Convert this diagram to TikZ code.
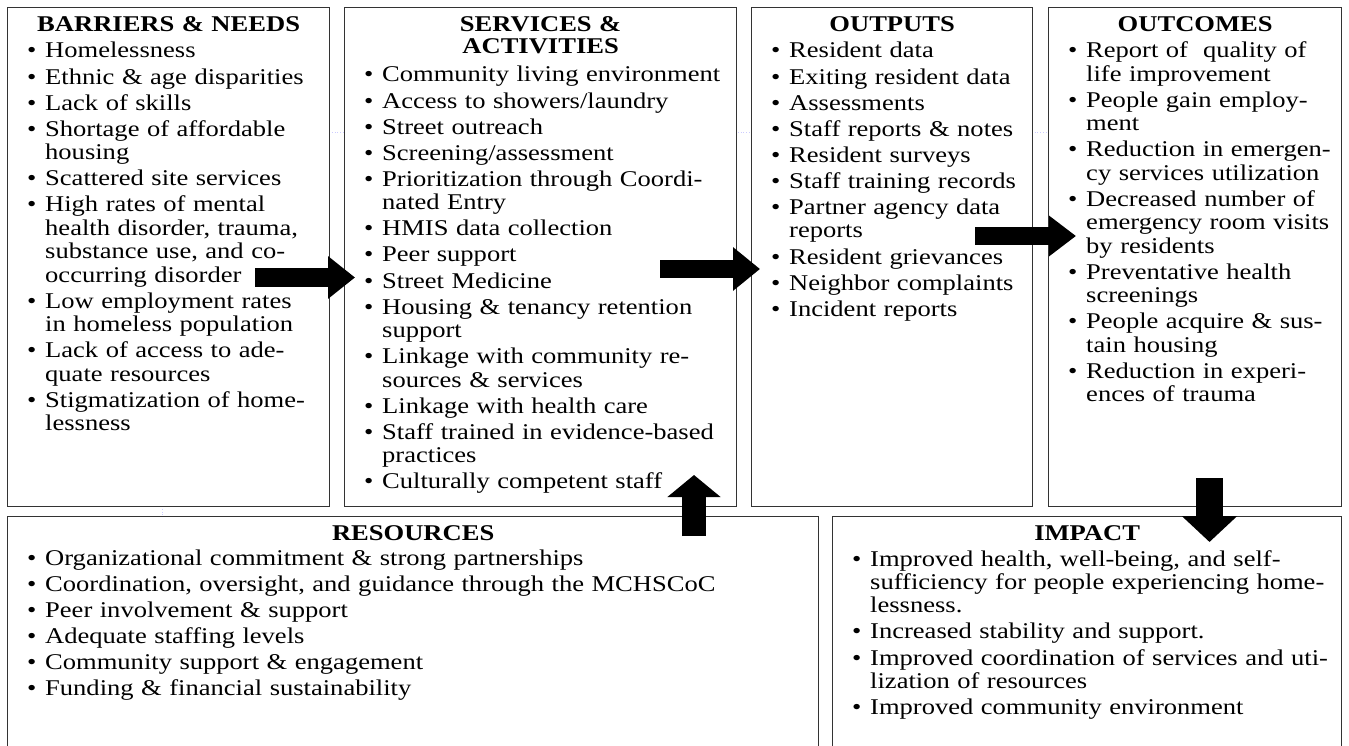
\documentclass[tikz,border=0pt]{standalone}
\usepackage{fontspec}
\setmainfont{Liberation Serif}[FakeStretch=1.18]
\usetikzlibrary{arrows.meta}

% text set in the boxes
\newcommand\listfont{\fontsize{22.5pt}{23.4pt}\selectfont\hyphenpenalty=10000\relax}
\newcommand\headfont{\fontsize{22.5pt}{22pt}\selectfont\bfseries}
\newcommand\itm[1]{\parskip=2.7pt\relax\hangindent=18pt\hangafter=1%
  \noindent\makebox[18pt][l]{\textbullet}#1\par}

\tikzset{%
  panel/.style={draw=black!80, line width=1.3pt, fill=white,
                anchor=north west, inner sep=0pt},
  head/.style={anchor=base, inner sep=0pt, text width=320pt,
               align=center, font=\headfont},
  items/.style={anchor=base west, inner sep=0pt, text width=#1,
                font=\listfont},
  fat/.style args={#1/#2/#3}{line width=#1,
                -{Triangle[length=#2, width=#3]}},
  gridline/.style={draw=blue!20, dotted, line width=0.8pt},
}

\begin{document}
\begin{tikzpicture}[x=1pt, y=-1pt]
\useasboundingbox (0,0) rectangle (1349,746);

% faint guide lines behind the boxes
\draw[gridline] (329,132) -- (1048,132);
\draw[gridline] (162,506) -- (162,516);

% Top row of boxes
\node[panel, minimum width=322pt, minimum height=499pt] (barriers) at (7,7) {};
\node[panel, minimum width=392pt, minimum height=499pt] (services) at (344,7) {};
\node[panel, minimum width=281pt, minimum height=499pt] (outputs) at (751,7) {};
\node[panel, minimum width=293pt, minimum height=499pt] (outcomes) at (1048,7) {};

% Bottom row of boxes
\node[panel, minimum width=811pt, minimum height=240pt] (resources) at (7,516) {};
\node[panel, minimum width=509pt, minimum height=240pt] (impact) at (832,516) {};

% Headings
\node[head] (barriersT) at ([shift={(0,25)}]barriers.north) {BARRIERS \& NEEDS};
\node[head] (servicesT) at ([shift={(0,25)}]services.north) {SERVICES \&\\ACTIVITIES};
\node[head] (outputsT) at ([shift={(0,25)}]outputs.north) {OUTPUTS};
\node[head] (outcomesT) at ([shift={(0,25)}]outcomes.north) {OUTCOMES};
\node[head] (resourcesT) at ([shift={(0,24)}]resources.north) {RESOURCES};
\node[head] (impactT) at ([shift={(0,24)}]impact.north) {IMPACT};

% Lists
\node[items=300pt] (barriersL) at ([shift={(20,51)}]barriers.north west) {%
  \itm{Homelessness}
  \itm{Ethnic \& age disparities}
  \itm{Lack of skills}
  \itm{Shortage of affordable\newline housing}
  \itm{Scattered site services}
  \itm{High rates of mental\newline health disorder, trauma,\newline
       substance use, and co-\newline occurring disorder}
  \itm{Low employment rates\newline in homeless population}
  \itm{Lack of access to ade-\newline quate resources}
  \itm{Stigmatization of home-\newline lessness}};

\node[items=370pt] (servicesL) at ([shift={(20,75)}]services.north west) {%
  \itm{Community living environment}
  \itm{Access to showers/laundry}
  \itm{Street outreach}
  \itm{Screening/assessment}
  \itm{Prioritization through Coordi-\newline nated Entry}
  \itm{HMIS data collection}
  \itm{Peer support}
  \itm{Street Medicine}
  \itm{Housing \& tenancy retention\newline support}
  \itm{Linkage with community re-\newline sources \& services}
  \itm{Linkage with health care}
  \itm{Staff trained in evidence-based\newline practices}
  \itm{Culturally competent staff}};

\node[items=258pt] (outputsL) at ([shift={(20,51)}]outputs.north west) {%
  \itm{Resident data}
  \itm{Exiting resident data}
  \itm{Assessments}
  \itm{Staff reports \& notes}
  \itm{Resident surveys}
  \itm{Staff training records}
  \itm{Partner agency data\newline reports}
  \itm{Resident grievances}
  \itm{Neighbor complaints}
  \itm{Incident reports}};

\node[items=270pt] (outcomesL) at ([shift={(20,51)}]outcomes.north west) {%
  \itm{Report of\ \ quality of\newline life improvement}
  \itm{People gain employ-\newline ment}
  \itm{Reduction in emergen-\newline cy services utilization}
  \itm{Decreased number of\newline emergency room visits\newline by residents}
  \itm{Preventative health\newline screenings}
  \itm{People acquire \& sus-\newline tain housing}
  \itm{Reduction in experi-\newline ences of trauma}};

\node[items=780pt] (resourcesL) at ([shift={(20,49)}]resources.north west) {%
  \itm{Organizational commitment \& strong partnerships}
  \itm{Coordination, oversight, and guidance through the MCHSCoC}
  \itm{Peer involvement \& support}
  \itm{Adequate staffing levels}
  \itm{Community support \& engagement}
  \itm{Funding \& financial sustainability}};

\node[items=488pt] (impactL) at ([shift={(20,50)}]impact.north west) {%
  \itm{Improved health, well-being, and self-\newline
       sufficiency for people experiencing home-\newline lessness.}
  \itm{Increased stability and support.}
  \itm{Improved coordination of services and uti-\newline lization of resources}
  \itm{Improved community environment}};

% Block arrows between the boxes
\coordinate (needsOut) at (255,277.5);
\coordinate (servicesIn) at (355,277.5);
\coordinate (servicesOut) at (660,269);
\coordinate (outputsIn) at (760,269);
\coordinate (outputsOut) at (975,236);
\coordinate (outcomesIn) at (1076,236);
\coordinate (outcomesOut) at (1209.5,478);
\coordinate (impactIn) at (1209.5,542);
\coordinate (resourcesOut) at (694,536);
\coordinate (servicesUp) at (694,475);

\draw[fat=19pt/27pt/41pt] (needsOut) -- (servicesIn);
\draw[fat=18pt/27pt/42pt] (servicesOut) -- (outputsIn);
\draw[fat=18pt/27pt/39pt] (outputsOut) -- (outcomesIn);
\draw[fat=27pt/26pt/54pt] (outcomesOut) -- (impactIn);
\draw[fat=24pt/22pt/52pt] (resourcesOut) -- (servicesUp);

\end{tikzpicture}
\end{document}
